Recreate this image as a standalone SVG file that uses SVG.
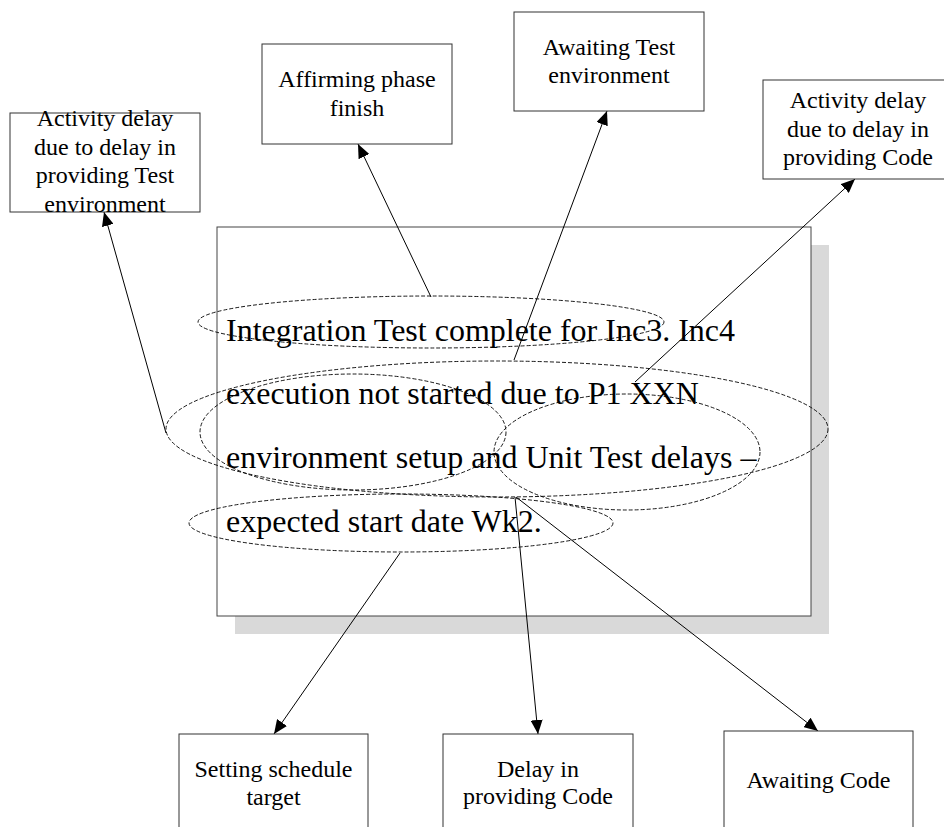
<svg xmlns="http://www.w3.org/2000/svg" width="944" height="827" viewBox="0 0 944 827">
  <style>
    .box { fill: #fff; stroke: #333; stroke-width: 1; }
    .lbl { font-family: "Liberation Serif", "Times New Roman", serif; font-size: 24px; fill: #000; text-anchor: middle; }
    .body { font-family: "Liberation Serif", "Times New Roman", serif; font-size: 32px; fill: #000; }
    .ring { fill: none; stroke: #000; stroke-width: 0.9; stroke-dasharray: 4 2; }
    .conn { fill: none; stroke: #000; stroke-width: 1; marker-end: url(#arrow); }
  </style>
  <defs>
    <marker id="arrow" markerUnits="userSpaceOnUse" viewBox="0 0 14 12" refX="14" refY="6" markerWidth="14" markerHeight="12" orient="auto">
      <path d="M0,0 L14,6 L0,12 z" fill="#000"/>
    </marker>
  </defs>

  <rect width="944" height="827" fill="#fff"/>

  <!-- status note with drop shadow -->
  <g id="status-note">
    <rect x="235" y="245" width="594" height="389" fill="#d9d9d9"/>
    <rect x="217" y="227" width="594" height="389" fill="#fff" stroke="#444" stroke-width="1"/>
    <text class="body" x="226" y="341">Integration Test complete for Inc3. Inc4</text>
    <text class="body" x="226" y="404">execution not started due to P1 XXN</text>
    <text class="body" x="226" y="468">environment setup and Unit Test delays –</text>
    <text class="body" x="226" y="532">expected start date Wk2.</text>
  </g>

  <!-- dashed callout rings over the note text -->
  <g id="highlights">
    <ellipse class="ring" cx="431" cy="322" rx="233" ry="26"/>
    <ellipse class="ring" cx="497" cy="429" rx="331" ry="68"/>
    <ellipse class="ring" cx="353" cy="432" rx="153" ry="58"/>
    <ellipse class="ring" cx="627" cy="452" rx="133" ry="58"/>
    <ellipse class="ring" cx="401" cy="523" rx="212" ry="29"/>
  </g>

  <g id="connectors">
    <line class="conn" x1="166" y1="433" x2="104" y2="212"/>
    <line class="conn" x1="431" y1="297" x2="358" y2="144"/>
    <line class="conn" x1="514" y1="360" x2="607" y2="111"/>
    <line class="conn" x1="635" y1="382" x2="855" y2="179"/>
    <line class="conn" x1="400" y1="553" x2="274" y2="734"/>
    <line class="conn" x1="515" y1="497" x2="538" y2="734"/>
    <line class="conn" x1="516" y1="497" x2="818" y2="731"/>
  </g>

  <g id="delay-test-env">
    <rect class="box" x="10" y="113" width="190" height="99"/>
    <text class="lbl" x="105" y="126">Activity delay</text>
    <text class="lbl" x="105" y="155">due to delay in</text>
    <text class="lbl" x="105" y="183">providing Test</text>
    <text class="lbl" x="105" y="212">environment</text>
  </g>

  <g id="affirming-phase">
    <rect class="box" x="262" y="44" width="190" height="100"/>
    <text class="lbl" x="357" y="87">Affirming phase</text>
    <text class="lbl" x="357" y="116">finish</text>
  </g>

  <g id="awaiting-test-env">
    <rect class="box" x="514" y="12" width="190" height="99"/>
    <text class="lbl" x="609" y="55">Awaiting Test</text>
    <text class="lbl" x="609" y="83">environment</text>
  </g>

  <g id="delay-code">
    <rect class="box" x="763" y="80" width="190" height="99"/>
    <text class="lbl" x="858" y="108">Activity delay</text>
    <text class="lbl" x="858" y="137">due to delay in</text>
    <text class="lbl" x="858" y="165">providing Code</text>
  </g>

  <g id="schedule-target">
    <rect class="box" x="179" y="734" width="189" height="99"/>
    <text class="lbl" x="273.5" y="777">Setting schedule</text>
    <text class="lbl" x="273.5" y="805">target</text>
  </g>

  <g id="delay-providing-code">
    <rect class="box" x="443" y="734" width="190" height="99"/>
    <text class="lbl" x="538" y="777">Delay in</text>
    <text class="lbl" x="538" y="804">providing Code</text>
  </g>

  <g id="awaiting-code">
    <rect class="box" x="724" y="731" width="189" height="99"/>
    <text class="lbl" x="818.5" y="788">Awaiting Code</text>
  </g>
</svg>
